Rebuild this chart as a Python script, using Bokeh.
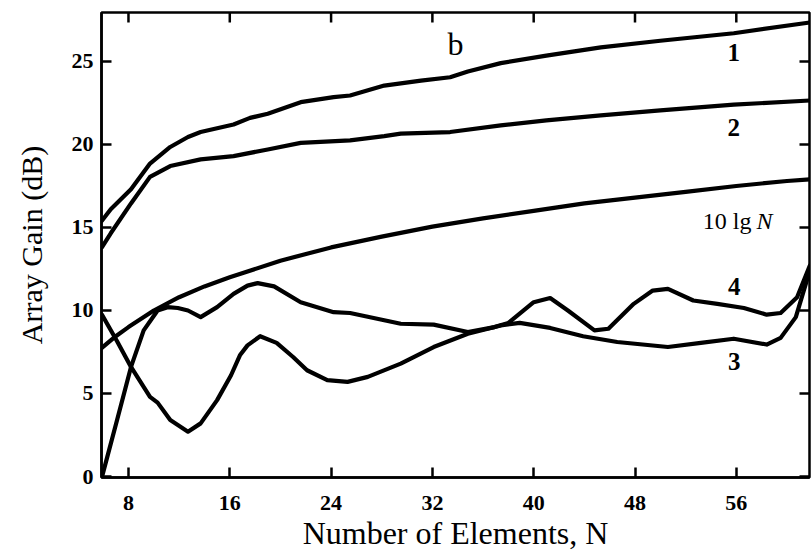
import math
from bokeh.plotting import figure
from bokeh.models import Range1d, FixedTicker, ColumnDataSource, Label
from bokeh.embed import file_html
from bokeh.resources import INLINE
from bokeh.core.properties import value

# ---- data ----
x_ticks = [8, 16, 24, 32, 40, 48, 56]
y_ticks = [0, 5, 10, 15, 20, 25]
x_lo, x_hi = 5.87, 61.78
y_lo, y_hi = -0.06, 27.95

N1 = [5.9, 6.6, 8.2, 9.7, 11.3, 12.7, 13.7, 16.3, 17.6, 19.0, 21.6, 24.2, 25.5, 28.2, 31.1, 33.4, 34.8, 37.4, 41.0, 45.3, 50.0, 55.8, 61.8]
G1 = [15.4, 16.1, 17.3, 18.85, 19.85, 20.45, 20.75, 21.2, 21.6, 21.85, 22.55, 22.85, 22.95, 23.55, 23.85, 24.05, 24.4, 24.9, 25.35, 25.85, 26.25, 26.7, 27.35]

N2 = [5.9, 6.6, 8.2, 9.7, 11.3, 13.7, 16.3, 19.0, 21.6, 25.5, 28.2, 29.5, 33.4, 37.4, 41.0, 45.3, 50.0, 55.8, 61.8]
G2 = [13.8, 14.65, 16.45, 18.05, 18.7, 19.1, 19.3, 19.7, 20.1, 20.25, 20.5, 20.65, 20.75, 21.15, 21.45, 21.75, 22.05, 22.4, 22.65]

N_lg = [5.9, 7, 8, 10, 12, 14, 16, 20, 24, 28, 32, 36, 40, 44, 48, 52, 56, 60, 61.8]
G_lg = [7.75, 8.45, 9.0, 10.0, 10.8, 11.45, 12.0, 13.0, 13.8, 14.45, 15.05, 15.55, 16.0, 16.45, 16.8, 17.15, 17.5, 17.8, 17.9]

N3 = [5.9, 7.1, 8.2, 9.7, 10.3, 11.3, 12.7, 13.7, 15.0, 16.1, 16.8, 17.4, 18.4, 19.7, 21.0, 22.1, 23.7, 25.3, 26.9, 29.5, 32.1, 34.8, 37.4, 38.9, 41.3, 43.9, 46.6, 50.6, 53.2, 55.8, 58.4, 59.5, 60.7, 61.8]
G3 = [9.75, 8.15, 6.6, 4.8, 4.45, 3.4, 2.7, 3.2, 4.6, 6.1, 7.3, 7.9, 8.45, 8.05, 7.2, 6.4, 5.8, 5.7, 6.0, 6.8, 7.8, 8.6, 9.1, 9.25, 8.95, 8.45, 8.1, 7.8, 8.05, 8.3, 7.95, 8.35, 9.6, 12.4]

N4 = [5.95, 7.1, 8.2, 9.2, 10.3, 11.1, 11.9, 12.7, 13.7, 15.0, 16.3, 17.4, 18.2, 19.5, 21.6, 24.2, 25.5, 29.5, 32.1, 34.8, 36.9, 38.0, 40.0, 41.3, 42.7, 44.8, 45.9, 47.9, 49.4, 50.6, 52.6, 54.5, 56.6, 58.4, 59.5, 60.8, 61.8]
G4 = [0.1, 3.4, 6.6, 8.8, 10.0, 10.2, 10.15, 10.0, 9.6, 10.2, 11.0, 11.5, 11.65, 11.45, 10.5, 9.9, 9.85, 9.2, 9.15, 8.7, 9.0, 9.25, 10.5, 10.75, 10.0, 8.8, 8.9, 10.4, 11.2, 11.3, 10.6, 10.4, 10.15, 9.75, 9.85, 10.8, 12.7]

curve_labels = ["1", "2", "4", "3"]
curve_label_x = [55.8, 55.8, 55.84, 55.84]
curve_label_y = [25.55, 21.04, 11.42, 6.91]

SERIF = "Liberation Serif"

p = figure(width=811, height=553,
           x_range=Range1d(x_lo, x_hi), y_range=Range1d(y_lo, y_hi),
           output_backend="svg", toolbar_location=None,
           min_border_left=101, min_border_right=2, min_border_top=12, min_border_bottom=75)

p.grid.visible = False
p.background_fill_color = "white"
p.border_fill_color = "white"
p.outline_line_color = "black"
p.outline_line_width = 2.5

for ax, ticks in [(p.xaxis[0], x_ticks), (p.yaxis[0], y_ticks)]:
    ax.ticker = FixedTicker(ticks=ticks)
    ax.axis_line_color = "black"
    ax.axis_line_width = 2.5
    ax.major_tick_in = 10
    ax.major_tick_out = 0
    ax.major_tick_line_width = 2.5
    ax.major_tick_line_color = "black"
    ax.minor_tick_line_color = None
    ax.major_label_text_font = SERIF
    ax.major_label_text_font_style = "bold"
    ax.major_label_text_font_size = "22px"
    ax.major_label_text_color = "black"
    ax.axis_label_text_font = SERIF
    ax.axis_label_text_font_style = "normal"
    ax.axis_label_text_color = "black"

p.xaxis[0].major_label_standoff = 18
p.yaxis[0].major_label_standoff = 8
p.xaxis[0].axis_label = "Number of Elements, N"
p.xaxis[0].axis_label_text_font_size = "32px"
p.xaxis[0].axis_label_standoff = 2
p.yaxis[0].axis_label = "Array Gain (dB)"
p.yaxis[0].axis_label_text_font_size = "30px"
p.yaxis[0].axis_label_standoff = 21

# inward ticks on the top and right frame edges
p.ray(x=x_ticks, y=[y_hi] * len(x_ticks), length=10, length_units="screen",
      angle=-math.pi / 2, line_color="black", line_width=2.5)
p.ray(x=[x_hi] * len(y_ticks), y=y_ticks, length=10, length_units="screen",
      angle=math.pi, line_color="black", line_width=2.5)

LW = 4.2
for xs, ys in [(N1, G1), (N2, G2), (N_lg, G_lg), (N3, G3), (N4, G4)]:
    p.line(xs, ys, line_color="black", line_width=LW, line_join="round", line_cap="round")

src = ColumnDataSource(dict(x=curve_label_x, y=curve_label_y, t=curve_labels))
p.text(x="x", y="y", text="t", source=src, text_font=value(SERIF), text_font_style="bold",
       text_font_size="25px", text_align="center", text_baseline="middle", text_color="black")

p.add_layout(Label(x=33.82, y=26.03, text="b", text_font=SERIF, text_font_size="32px",
                   text_align="center", text_baseline="middle", text_color="black"))

p.add_layout(Label(x=57.2, y=15.39, text="10 lg", text_font=SERIF, text_font_size="24px",
                   text_align="right", text_baseline="alphabetic", text_color="black"))
p.add_layout(Label(x=57.2, y=15.39, x_offset=5, text="N", text_font=SERIF, text_font_size="24px",
                   text_font_style="italic", text_align="left", text_baseline="alphabetic",
                   text_color="black"))

open("out.html", "w").write(file_html(p, INLINE))
